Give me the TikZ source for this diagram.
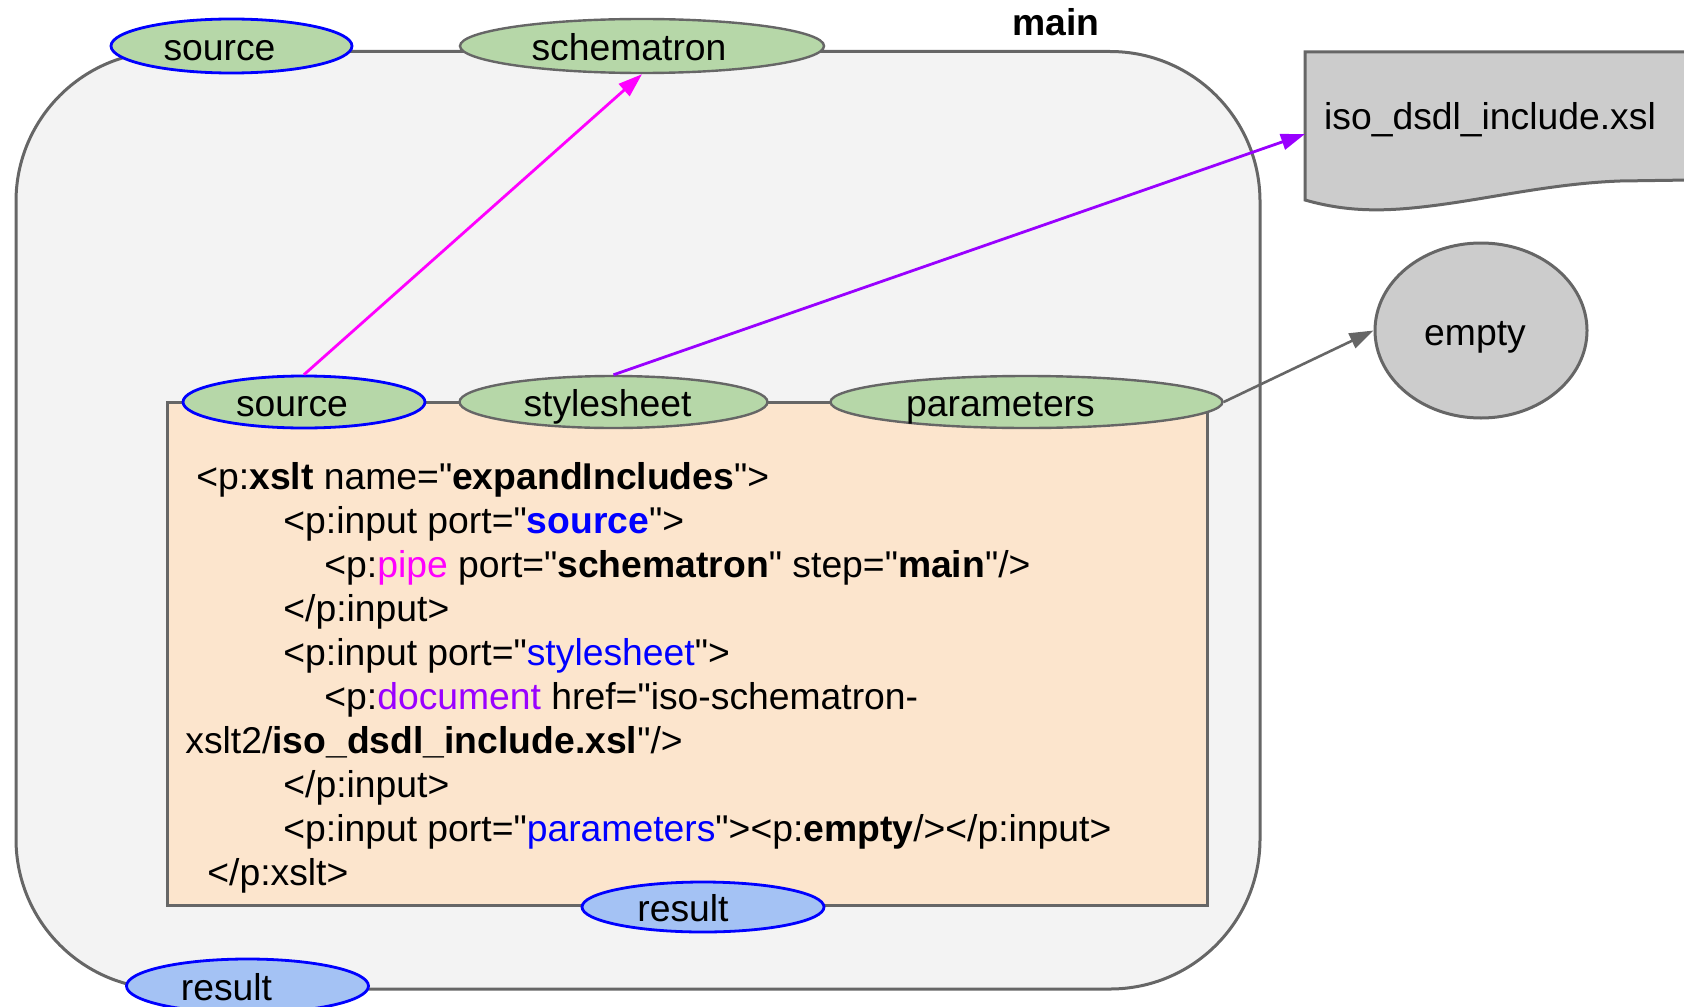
\documentclass[tikz,border=0pt]{standalone}
\usepackage{fontspec}
\setmainfont{Liberation Sans}[Ligatures=TeXOff]
\usepackage{xcolor}
\usetikzlibrary{shapes.geometric,arrows.meta}

\definecolor{portgreen}{HTML}{B6D7A8}
\definecolor{portblue}{HTML}{A4C2F4}
\definecolor{stepfill}{HTML}{FCE5CD}
\definecolor{mainfill}{HTML}{F3F3F3}
\definecolor{docgray}{HTML}{CCCCCC}
\definecolor{edgegray}{HTML}{666666}
\definecolor{pipecol}{HTML}{FF00FF}
\definecolor{doccol}{HTML}{9900FF}
\definecolor{portcol}{HTML}{0000FF}

\tikzset{
  every node/.style={font=\fontsize{18.65pt}{22pt}\selectfont},
  port/.style={ellipse, draw=edgegray, line width=1.2pt, fill=portgreen, inner sep=0pt,
               text height=14.5pt, text depth=0pt},
  inport/.style={port, draw=portcol, line width=1.4pt},
  outport/.style={inport, fill=portblue},
  nudge/.style={execute at begin node={\kern-#1}},
  stepbox/.style={rectangle, draw=edgegray, line width=1.5pt, inner sep=0pt},
  codeline/.style={anchor=base west, inner sep=0pt},
  link/.style={line width=1.4pt, -{Triangle[length=12pt,width=8pt]}},
}

\begin{document}
\begin{tikzpicture}[x=0.5pt, y=-0.5pt]
  \useasboundingbox (0,0) rectangle (1684,1006);

  % pipeline "main"
  \node[stepbox, fill=mainfill, rounded corners=75pt,
        minimum width=622pt, minimum height=468.75pt] (mainbox) at (638,520.25) {};
  \node[anchor=base, font=\fontsize{18.65pt}{22pt}\selectfont\bfseries] (mainname) at (1056,36) {main};

  % external document and empty input
  \draw[edgegray, line width=1.5pt, fill=docgray]
    (1690,52) -- (1305,52) -- (1305,200)
    .. controls (1340,210) and (1370,211) .. (1400,209)
    .. controls (1470,204) and (1540,184) .. (1620,181) -- (1690,180) -- cycle;
  \node[anchor=base] (isoname) at (1490,129.5) {iso\_dsdl\_include.xsl};
  \coordinate (isoin) at (1305,134);
  \node[ellipse, draw=edgegray, line width=1.5pt, fill=docgray, inner sep=0pt,
        text height=14.5pt, text depth=0pt,
        minimum width=106pt, minimum height=87.5pt, nudge=6pt] (empty) at (1481,330.5) {empty};

  % xslt step
  \node[stepbox, fill=stepfill, minimum width=519.75pt, minimum height=251.5pt] (xslt) at (687.25,653.5) {};

  % ports
  \node[inport, minimum width=120.5pt, minimum height=27pt, nudge=12pt] (msrc) at (231.5,46) {source};
  \node[port, minimum width=182pt, minimum height=27pt, nudge=13pt] (schem) at (642,46) {schematron};
  \node[inport, minimum width=121pt, minimum height=26pt, nudge=12pt] (isrc) at (304,402) {source};
  \node[port, minimum width=154pt, minimum height=26pt, nudge=6pt] (style) at (613.5,402) {stylesheet};
  \node[port, minimum width=196pt, minimum height=26pt, nudge=26pt] (params) at (1026.5,402) {parameters};
  \node[outport, minimum width=121pt, minimum height=25pt, nudge=20pt] (ires) at (703,907) {result};
  \node[outport, minimum width=121pt, minimum height=27pt, nudge=21pt] (mres) at (247.5,986) {result};

  % step code
  \node[codeline] (l1) at (196,489) {<p:\textbf{xslt} name="\textbf{expandIncludes}">};
  \node[codeline] (l2) at (283,533) {<p:input port="\textbf{\color{portcol}source}">};
  \node[codeline] (l3) at (324,577) {<p:{\color{pipecol}pipe} port="\textbf{schematron}" step="\textbf{main}"/>};
  \node[codeline] (l4) at (283,621) {</p:input>};
  \node[codeline] (l5) at (283,665) {<p:input port="{\color{portcol}stylesheet}">};
  \node[codeline] (l6) at (324,709) {<p:{\color{doccol}document} href="iso-schematron-};
  \node[codeline] (l7) at (185,753) {xslt2/\textbf{iso\_dsdl\_include.xsl}"/>};
  \node[codeline] (l8) at (283,797) {</p:input>};
  \node[codeline] (l9) at (283,841) {<p:input port="{\color{portcol}parameters}"><p:\textbf{empty}/></p:input>};
  \node[codeline] (l10) at (207,885) {</p:xslt>};

  % connections
  \draw[link, pipecol] (isrc.north) -- (schem.south);
  \draw[link, doccol] (style.north) -- (isoin);
  \draw[link, edgegray, line width=1.3pt] (params.east) -- (empty.west);
\end{tikzpicture}
\end{document}
